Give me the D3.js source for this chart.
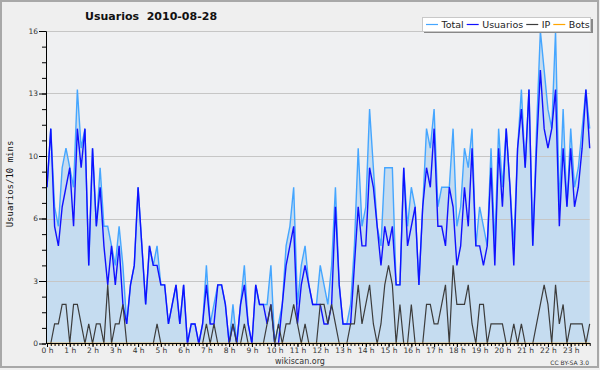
<!DOCTYPE html>
<meta charset="utf-8">
<title>Usuarios 2010-08-28</title>
<style>
  body { margin: 0; background: #fff; }
  svg { display: block; font-family: "DejaVu Sans", sans-serif; }
</style>
<body>
<svg id="chart" width="600" height="370"></svg>
<script src="https://d3js.org/d3.v7.min.js"></script>
<script>

// one value every 10 minutes, 144 per day
var minutes = d3.range(0, 1440, 10);

var total = [
  8,11,7,6,9,10,9,8,13,10,11,4,
  10,6,9,6,6,5,4,6,4,1,3,4,
  8,5,2,5,4,5,3,3,1,2,3,1,
  3,0,1,1,0,1,4,1,2,3,3,2,
  0,2,0,2,4,1,0,3,2,2,2,4,
  0,1,2,5,6,8,2,4,5,3,2,2,
  4,3,2,4,8,3,1,1,2,5,10,6,
  7,12,9,6,5,9,9,9,3,3,9,6,
  8,7,3,7,11,10,12,7,8,8,8,11,
  6,7,10,9,11,5,7,6,5,10,5,11,
  8,11,8,5,10,13,9,13,5,11,16,14,
  12,11,16,7,12,7,11,8,9,11,13,11
];

var usuarios = [
  8,11,6,5,7,8,9,6,11,9,11,4,
  10,6,8,5,3,5,3,5,2,1,3,4,
  8,5,2,5,4,4,3,3,1,2,3,1,
  3,0,1,1,0,1,3,1,1,3,3,2,
  0,1,0,2,3,1,0,3,2,2,1,2,
  0,0,2,4,5,6,1,3,4,3,2,2,
  2,1,1,2,7,3,1,1,1,4,7,5,
  5,9,8,6,4,6,5,6,3,3,9,5,
  6,7,3,7,9,8,11,6,6,5,8,7,
  4,5,8,6,10,5,5,4,5,9,4,10,
  7,11,8,4,10,12,9,13,5,10,14,11,
  10,11,13,6,10,7,10,7,8,10,13,10
];

var ip = [
  0,0,1,1,2,2,0,2,2,1,0,1,
  0,1,1,0,3,0,1,1,2,0,0,0,
  0,0,0,0,0,1,0,0,0,0,0,0,
  0,0,0,0,0,0,1,0,1,0,0,0,
  0,1,0,0,1,0,0,0,0,0,1,2,
  0,1,0,1,1,2,1,0,1,0,0,0,
  2,2,1,2,1,0,0,0,1,1,3,1,
  2,3,1,0,1,3,4,3,0,2,0,0,
  2,0,0,0,2,2,1,1,2,3,0,4,
  2,2,2,3,1,0,2,2,0,1,1,1,
  1,0,0,1,0,1,0,0,0,1,2,3,
  2,0,3,1,2,0,1,1,1,1,0,1
];

var bots = [
  0,0,0,0,0,0,0,0,0,0,0,0,
  0,0,0,0,0,0,0,0,0,0,0,0,
  0,0,0,0,0,0,0,0,0,0,0,0,
  0,0,0,0,0,0,0,0,0,0,0,0,
  0,0,0,0,0,0,0,0,0,0,0,0,
  0,0,0,0,0,0,0,0,0,0,0,0,
  0,0,0,0,0,0,0,0,0,0,0,0,
  0,0,0,0,0,0,0,0,0,0,0,0,
  0,0,0,0,0,0,0,0,0,0,0,0,
  0,0,0,0,0,0,0,0,0,0,0,0,
  0,0,0,0,0,0,0,0,0,0,0,0,
  0,0,0,0,0,0,0,0,0,0,0,0
];

var hourTicks = d3.range(0, 1440, 60);          // 0 h .. 23 h
var yLabels = [0, 3.2, 6.4, 9.6, 12.8, 16];     // shown rounded
var seriesNames = ["Total", "Usuarios", "IP", "Bots"];
var seriesColors = ["#45a6ff", "#1010ff", "#3c3c3c", "#ffa500"];

var svg = d3.select("#chart");

var x = d3.scaleLinear().domain([0, 1430]).range([47, 589.7]);
var y = d3.scaleLinear().domain([0, 16]).range([343.5, 31]);

// background + frame
svg.append("rect").attr("width", 600).attr("height", 370).attr("fill", "#efefef");
svg.append("rect").attr("x", 1).attr("y", 1).attr("width", 597).attr("height", 366)
  .attr("fill", "none").attr("stroke", "#a8a8a8").attr("stroke-width", 2);
svg.append("rect").attr("x", 47).attr("y", 31).attr("width", 542.7).attr("height", 312.5)
  .attr("fill", "#eff0f2");

// filled area under total
var area = d3.area()
  .x(function (d, i) { return x(minutes[i]); })
  .y0(y(0))
  .y1(function (d) { return y(d); });

svg.append("path").datum(total)
  .attr("d", area)
  .attr("fill", "#c5dcf0");

// grid
svg.append("g").selectAll("line")
  .data(yLabels.slice(1))
  .enter().append("line")
    .attr("x1", 47).attr("x2", 589.7)
    .attr("y1", function (d) { return Math.round(y(d)) + 0.5; })
    .attr("y2", function (d) { return Math.round(y(d)) + 0.5; })
    .attr("stroke", "#c6c6c6");

var line = d3.line()
  .x(function (d, i) { return x(minutes[i]); })
  .y(function (d) { return y(d); });

[total, usuarios, ip, bots].forEach(function (s, k) {
  svg.append("path").datum(s)
    .attr("d", line)
    .attr("fill", "none")
    .attr("stroke", seriesColors[k])
    .attr("stroke-width", k == 2 ? 1.2 : 1.4)
    .attr("stroke-linejoin", "miter");
});

// axes
var xMinor = svg.append("g").attr("transform", "translate(0,343)")
  .call(d3.axisBottom(x).tickValues(minutes).tickSize(3).tickSizeOuter(0).tickFormat(""));
var xMajor = svg.append("g").attr("transform", "translate(0,343)")
  .call(d3.axisBottom(x).tickValues(hourTicks).tickSize(4).tickSizeOuter(0).tickPadding(1)
    .tickFormat(function (d) { return (d / 60) + " h"; }));

var yMinor = svg.append("g").attr("transform", "translate(46,0)")
  .call(d3.axisLeft(y).tickValues(d3.range(0, 16.01, 0.8)).tickSize(4).tickSizeOuter(0).tickFormat(""));
var yMajor = svg.append("g").attr("transform", "translate(46,0)")
  .call(d3.axisLeft(y).tickValues(yLabels).tickSize(7).tickSizeOuter(0).tickPadding(1)
    .tickFormat(function (d) { return Math.round(d); }));

svg.selectAll(".tick text").attr("font-size", 7.5).attr("fill", "#333")
  .attr("font-family", "DejaVu Sans");
xMajor.select(".domain").attr("stroke-width", 1);
yMajor.select(".domain").attr("x1", 0);

// x domain line should start at the y axis
xMinor.select(".domain").remove();
xMajor.select(".domain").remove();
svg.append("line").attr("x1", 46).attr("x2", 590).attr("y1", 343.5).attr("y2", 343.5)
  .attr("stroke", "#000");

// title
svg.append("text").attr("x", 85).attr("y", 20)
  .attr("font-size", 11).attr("font-weight", "bold").attr("fill", "#111")
  .attr("xml:space", "preserve")
  .text("Usuarios  2010-08-28");

// y label
svg.append("text")
  .attr("transform", "translate(13,184) rotate(-90)")
  .attr("text-anchor", "middle")
  .attr("font-family", "DejaVu Sans Mono")
  .attr("font-size", 9).attr("fill", "#111")
  .text("Usuarios/10 mins");

// footer
svg.append("text").attr("x", 300).attr("y", 364).attr("text-anchor", "middle")
  .attr("font-size", 8).attr("fill", "#333").text("wikiscan.org");
svg.append("text").attr("x", 589).attr("y", 365).attr("text-anchor", "end")
  .attr("font-size", 6).attr("fill", "#333").text("CC BY-SA 3.0");

// legend
var lg = svg.append("g");
lg.append("rect").attr("x", 424).attr("y", 19).attr("width", 169).attr("height", 14).attr("fill", "#888");
lg.append("rect").attr("x", 422.5).attr("y", 17.5).attr("width", 168).attr("height", 14)
  .attr("fill", "#fff").attr("stroke", "#c8c8c8");

var lx = 426;
seriesNames.forEach(function (name, k) {
  lg.append("line").attr("x1", lx).attr("x2", lx + 12).attr("y1", 24.5).attr("y2", 24.5)
    .attr("stroke", seriesColors[k]).attr("stroke-width", 1.2);
  var t = lg.append("text").attr("x", lx + 15.5).attr("y", 28)
    .attr("font-size", 9.5).attr("fill", "#222").text(name);
  lx += 15.5 + t.node().getComputedTextLength() + 3;
});

</script>
</body>
